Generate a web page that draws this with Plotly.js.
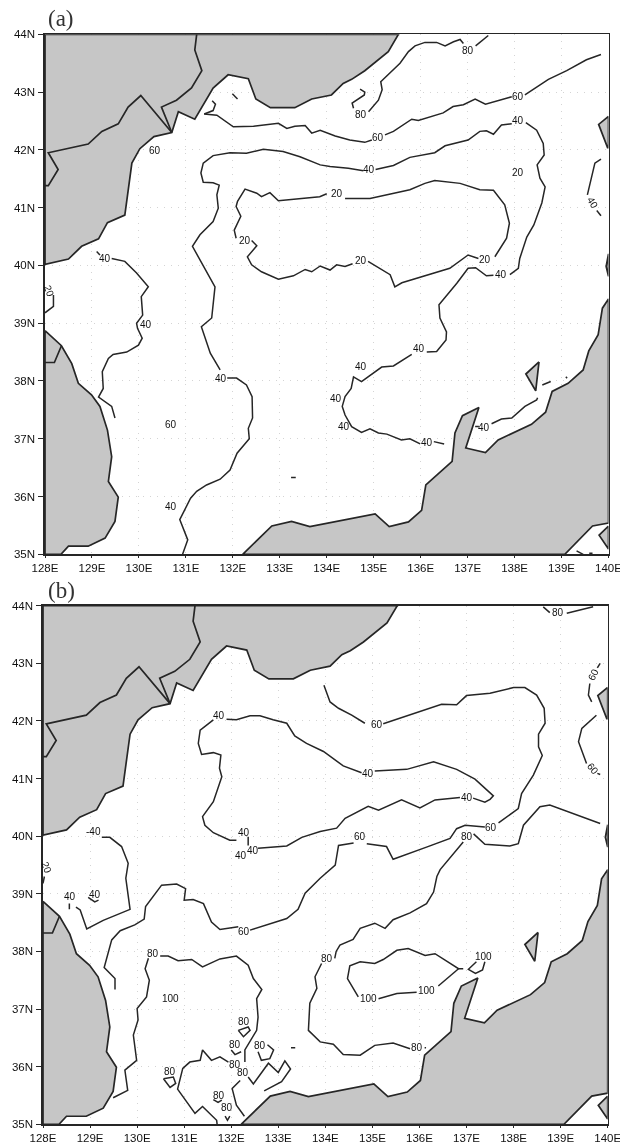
<!DOCTYPE html>
<html><head><meta charset="utf-8">
<script src="https://cdn.plot.ly/plotly-3.0.1.min.js"></script>
<style>html,body{margin:0;padding:0;background:#fff;overflow:hidden}#chart{filter:blur(0.35px)}</style>
</head><body><div id="chart" style="width:627px;height:1145px"></div>
<script>
// ---- land (lon, lat) ----
const landNorth=[[128,44],[135.54,44],[135.52,43.99],[135.31,43.70],[134.81,43.37],[134.53,43.22],[134.35,43.15],[134.10,42.95],[133.85,42.91],[133.68,42.88],[133.32,42.73],[132.80,42.73],[132.49,42.88],[132.33,43.23],[131.90,43.30],[131.58,43.07],[131.19,42.53],[130.84,42.66],[130.70,42.30],[130.32,42.23],[130.02,42.02],[129.85,41.77],[129.70,40.87],[129.33,40.74],[129.14,40.46],[128.78,40.33],[128.50,40.11],[128,40.02],[128,44]];
const borderA=[[128,41.38],[128.07,41.38],[128.28,41.66],[128.07,41.95],[128.92,42.10],[129.21,42.32],[129.56,42.45],[129.77,42.74],[130.04,42.94],[130.70,42.30]];
const borderB=[[130.70,42.30],[130.48,42.74],[130.80,42.86],[131.12,43.07],[131.34,43.37],[131.19,43.73],[131.23,44]];
const landKorea=[[128,38.87],[128.35,38.61],[128.57,38.30],[128.71,37.96],[128.99,37.76],[129.17,37.56],[129.33,37.15],[129.42,36.69],[129.35,36.26],[129.56,35.99],[129.49,35.57],[129.28,35.28],[128.92,35.14],[128.50,35.14],[128.34,35.0],[128,35],[128,38.87]];
const borderC=[[128,38.32],[128.20,38.32],[128.35,38.61]];
const landJapan=[[132.21,35.0],[132.83,35.49],[133.25,35.57],[133.64,35.48],[135.03,35.70],[135.33,35.48],[135.74,35.56],[136.02,35.76],[136.11,36.2],[136.67,36.61],[136.73,37.10],[136.89,37.40],[137.24,37.54],[136.96,36.84],[137.38,36.76],[137.65,36.98],[138.36,37.25],[138.66,37.46],[138.80,37.82],[139.14,37.96],[139.46,38.19],[139.58,38.52],[139.78,38.80],[139.87,39.26],[140,39.42],[140,35.54],[139.66,35.49],[139.07,35.0],[132.21,35.0]];
const islandSado=[[138.52,38.33],[138.24,38.12],[138.45,37.83],[138.52,38.33]];
const islandCorner=[[140,35.49],[139.80,35.33],[140,35.09],[140,35.49]];
const islandNE=[[140,42.58],[139.79,42.44],[139.98,42.04],[140,42.04],[140,42.58]];
const islandE=[[140,40.2],[139.95,39.98],[140,39.81],[140,40.2]];

// ---- panel (a) contours ----
const a60West=[[131.39,42.62],[131.66,42.60],[132.01,42.40],[132.44,42.41],[132.97,42.46],[133.15,42.37],[133.32,42.41],[133.54,42.42],[133.68,42.29],[133.86,42.34],[134.18,42.24],[134.49,42.17],[134.81,42.13],[134.96,42.17]];
const a60Mid=[[135.24,42.26],[135.42,42.32],[135.81,42.53],[135.95,42.51],[136.48,42.64],[136.69,42.75],[136.91,42.78],[137.16,42.88],[137.38,42.79],[137.94,42.92]];
const a60East=[[138.22,42.95],[138.72,43.22],[139.11,43.37],[139.53,43.56],[139.84,43.65]];
const a60Stub=[[131.56,42.85],[131.63,42.79],[131.58,42.68],[131.39,42.62]];
const a60Tick=[[131.99,42.97],[132.10,42.88]];
const a80Top=[[137.44,43.98],[137.17,43.80]];
const a80Arc=[[136.91,43.84],[136.84,43.91],[136.70,43.87],[136.52,43.80],[136.34,43.86],[136.09,43.86],[135.88,43.80],[135.74,43.70],[135.56,43.50],[135.15,43.18],[135.18,43.04],[135.10,42.86],[134.89,42.66]];
const a80Stub=[[134.57,42.72],[134.54,42.81],[134.80,42.95],[134.81,43.0],[134.71,43.05]];
const a40South=[[130.93,35.0],[131.04,35.25],[130.87,35.60],[131.10,35.97],[131.23,36.09],[131.44,36.20],[131.73,36.30],[131.94,36.46],[132.09,36.75],[132.35,37.0],[132.33,37.18],[132.42,37.36],[132.41,37.73],[132.29,37.93],[132.08,38.05],[131.88,38.05]];
const a40West=[[131.73,38.19],[131.52,38.48],[131.33,38.94],[131.55,39.09],[131.62,39.63],[131.14,40.33],[131.30,40.53],[131.58,40.76],[131.69,40.99],[131.66,41.22],[131.71,41.39],[131.58,41.43],[131.37,41.44],[131.32,41.60],[131.37,41.77],[131.58,41.90],[131.94,41.95],[132.29,41.94],[132.65,42.01],[133.07,41.97],[133.43,41.88],[133.64,41.81],[133.86,41.74],[134.07,41.71],[134.46,41.68],[134.78,41.64]];
const a40North=[[135.04,41.66],[135.42,41.73],[135.77,41.87],[136.30,41.95],[136.52,42.07],[137.01,42.17],[137.26,42.32],[137.40,42.33],[137.55,42.27],[137.72,42.43],[137.94,42.45]];
const a40East=[[138.24,42.47],[138.47,42.34],[138.61,42.11],[138.63,41.91],[138.48,41.74],[138.54,41.51],[138.65,41.36],[138.58,41.08],[138.41,40.70],[138.26,40.49],[138.11,40.12],[138.08,39.95],[137.90,39.84]];
const a40Bend=[[137.55,39.83],[137.40,39.82],[137.17,39.96],[137.01,39.95],[136.77,39.69],[136.50,39.42],[136.39,39.32],[136.41,39.09],[136.55,38.85],[136.54,38.71],[136.34,38.51],[136.13,38.50]];
const a40Loop=[[135.81,38.46],[135.42,38.26],[135.17,38.24],[134.74,37.99],[134.57,38.07],[134.52,37.87],[134.39,37.73],[134.33,37.56],[134.39,37.41],[134.53,37.21],[134.74,37.11],[134.92,37.17],[135.10,37.10],[135.28,37.08],[135.59,36.98],[135.77,37.0],[135.99,36.91]];
const a40End=[[136.28,36.95],[136.50,36.91]];
const a40Korea=[[129.42,40.12],[129.70,40.07],[129.95,39.87],[130.20,39.63],[130.05,39.46],[130.08,39.14],[129.95,39.0],[129.97,38.91],[130.07,38.74],[129.99,38.62],[129.74,38.50],[129.45,38.46],[129.35,38.39],[129.22,38.16],[129.24,37.87],[129.14,37.72],[129.42,37.56],[129.49,37.36]];
const a40KoreaTick=[[129.10,40.24],[129.17,40.18]];
const a20Edge=[[128.18,39.49],[128.18,39.29],[128,39.18]];
const a20Left=[[132.07,40.47],[132.03,40.61],[132.17,40.85],[132.07,41.02],[132.10,41.11],[132.26,41.32],[132.51,41.25],[132.61,41.19],[132.79,41.26],[132.97,41.12],[133.85,41.19],[134.0,41.24]];
const a20Top=[[134.39,41.16],[134.92,41.16],[135.77,41.31],[136.09,41.42],[136.30,41.47],[136.84,41.42],[137.26,41.31],[137.55,41.30],[137.79,41.05],[137.89,40.73],[137.83,40.47],[137.58,40.15]];
const a20Bottom=[[137.23,40.12],[137.01,40.18],[136.62,39.95],[135.60,39.70],[135.45,39.63],[135.35,39.84],[134.88,40.07]];
const a20Wave=[[134.55,40.03],[134.39,39.98],[134.21,40.01],[134.07,39.92],[133.86,39.99],[133.68,39.89],[133.54,39.93],[133.29,39.82],[132.97,39.76],[132.61,39.89],[132.40,40.01],[132.31,40.15],[132.51,40.34],[132.40,40.43]];
const a40Right=[[139.84,41.84],[139.71,41.77],[139.55,41.22]];
const a40RightEnd=[[139.75,40.95],[139.84,40.86]];
const a40Sado=[[137.51,37.26],[137.72,37.34],[137.94,37.36],[138.22,37.56],[138.47,37.67],[138.49,37.71]];
const a40SadoTick=[[137.16,37.21],[137.24,37.21]];
const aDashA=[[138.59,37.93],[138.77,37.99]];
const aDashB=[[139.09,38.07],[139.12,38.05]];
const aDashC=[[133.24,36.33],[133.34,36.33]];
const aDashD=[[139.32,35.06],[139.46,35.0]];
const aDashE=[[139.59,35.02],[139.66,35.02]];
const panelAlines=[a60West,a60Mid,a60East,a60Stub,a60Tick,a80Top,a80Arc,a80Stub,a40South,a40West,a40North,a40East,a40Bend,a40Loop,a40End,a40Korea,a40KoreaTick,a20Edge,a20Left,a20Top,a20Bottom,a20Wave,a40Right,a40RightEnd,a40Sado,a40SadoTick,aDashA,aDashB,aDashC,aDashD,aDashE];
const panelAlabels=[["60",130.34,41.99,0],["60",135.09,42.22,0],["60",138.08,42.93,0],["80",137.01,43.72,0],["80",134.72,42.62,0],["40",134.91,41.66,0],["40",138.08,42.51,0],["40",137.72,39.85,0],["40",135.96,38.56,0],["40",134.72,38.25,0],["40",134.20,37.69,0],["40",134.37,37.21,0],["40",136.13,36.94,0],["40",137.35,37.20,0],["40",131.74,38.05,0],["40",130.16,38.97,0],["60",130.68,37.24,0],["40",130.68,35.82,0],["40",129.28,40.12,0],["20",132.26,40.43,0],["20",134.21,41.24,0],["20",134.73,40.08,0],["20",137.37,40.11,0],["20",138.08,41.60,0],["40",139.66,41.09,60],["20",128.09,39.55,70]];

// ---- panel (b) contours ----
const b40Ring=[[131.90,42.03],[132.11,42.02],[132.40,42.09],[132.61,42.09],[132.89,42.02],[133.18,41.96],[133.35,41.74],[133.60,41.61],[133.96,41.47],[134.17,41.35],[134.38,41.22],[134.77,41.10]];
const b40Ring2=[[135.05,41.13],[135.73,41.16],[136.30,41.29],[136.79,41.16],[137.18,40.99],[137.57,40.70],[137.50,40.64],[137.39,40.59],[137.14,40.66]];
const b40Ring3=[[136.86,40.67],[136.33,40.63],[136.01,40.49],[135.62,40.63],[135.13,40.45],[134.91,40.52],[134.42,40.31],[134.24,40.14],[133.89,40.08],[133.50,39.98],[133.18,39.83],[132.57,39.79]];
const b40Left=[[132.11,39.93],[131.97,39.93],[131.62,40.06],[131.44,40.19],[131.39,40.34],[131.62,40.60],[131.80,41.03],[131.75,41.18],[131.78,41.41],[131.62,41.45],[131.37,41.42],[131.30,41.61],[131.34,41.84],[131.62,42.02]];
const b40Tick=[[132.36,39.99],[132.36,39.84]];
const b40Korea=[[129.25,39.98],[129.42,39.98],[129.67,39.82],[129.81,39.53],[129.76,39.27],[129.81,39.01],[129.85,38.73],[129.28,38.54],[128.93,38.39],[128.79,38.72],[128.70,38.77]];
const b40KTick=[[128.56,38.83],[128.56,38.73]];
const b40KArc=[[128.96,38.94],[129.10,38.86],[129.18,38.89]];
const b20Edge=[[128.03,39.30],[128,39.18]];
const b60North=[[133.97,42.62],[134.10,42.33],[134.28,42.22],[134.56,42.10],[134.84,41.96]];
const b60Loop=[[135.23,41.95],[135.80,42.10],[136.47,42.29],[136.79,42.28],[137.0,42.44],[137.50,42.48],[138.0,42.58],[138.24,42.58],[138.49,42.45],[138.65,42.22],[138.67,41.96],[138.53,41.77],[138.53,41.55],[138.61,41.40],[138.42,41.06],[138.17,40.74],[138.10,40.48],[137.68,40.23]];
const b60Mid=[[137.39,40.16],[136.97,40.19],[136.79,40.13],[136.65,39.96],[136.15,39.81],[135.44,39.60],[135.30,39.82],[134.88,39.87]];
const b60South=[[134.60,39.88],[134.28,39.84],[134.21,39.50],[134.03,39.38],[133.89,39.27],[133.57,39.01],[133.42,38.73],[133.18,38.57],[132.40,38.37]];
const b60Far=[[132.15,38.43],[131.76,38.38],[131.58,38.51],[131.41,38.83],[131.19,38.90],[131.0,38.89],[131.03,39.09],[130.84,39.17],[130.52,39.15],[130.18,38.78],[130.15,38.56],[129.95,38.46],[129.64,38.36],[129.46,38.20],[129.30,37.72],[129.53,37.53],[129.53,37.34]];
const b60RightA=[[139.84,43.0],[139.78,42.92]];
const b60RightB=[[139.62,42.65],[139.59,42.45],[139.66,42.33]];
const b60RightC=[[139.76,42.10],[139.45,41.87],[139.38,41.64],[139.55,41.26]];
const b60RightD=[[139.78,41.09],[139.84,41.07]];
const b80TopA=[[138.63,43.98],[138.77,43.88]];
const b80TopB=[[139.13,43.87],[139.69,43.98]];
const b80East=[[139.84,40.22],[139.27,40.39],[138.77,40.54],[138.56,40.51],[138.21,40.19],[138.10,39.87],[137.92,39.83],[137.39,39.86],[137.15,40.04]];
const b80Down=[[136.93,39.90],[136.44,39.42],[136.37,39.30],[136.30,39.03],[136.15,38.83],[135.80,38.67],[135.44,38.55],[135.27,38.40],[135.05,38.49],[134.74,38.40],[134.59,38.21],[134.31,38.11],[134.23,38.0],[134.20,37.88]];
const b80Turn=[[133.92,37.79],[133.78,37.56],[133.82,37.36],[133.67,37.10],[133.64,36.63],[133.89,36.43],[134.17,36.39],[134.38,36.21],[134.74,36.20],[135.05,36.37],[135.44,36.41],[135.80,36.31]];
const b80TurnEnd=[[136.11,36.33],[136.14,36.33]];
const b100Main=[[136.93,37.70],[136.83,37.70],[136.33,37.96],[136.12,37.93],[135.76,38.05],[135.52,38.02],[135.23,37.86],[135.05,37.79],[134.74,37.82],[134.52,37.75],[134.47,37.53],[134.70,37.21]];
const b100Low=[[135.13,37.18],[135.52,37.27],[135.94,37.29]];
const b100Rise=[[136.40,37.40],[136.83,37.70]];
const b100Small=[[137.21,37.82],[137.04,37.69],[137.19,37.62],[137.34,37.68],[137.39,37.82]];
const b80North=[[130.49,37.92],[130.66,37.92],[130.87,37.84],[131.16,37.86],[131.39,37.73],[131.76,37.87],[132.11,37.92],[132.36,37.76],[132.47,37.53],[132.65,37.34],[132.54,37.18],[132.57,36.86],[132.54,36.63],[132.29,36.29],[132.29,36.08]];
const b80Sweep=[[131.94,36.08],[131.76,36.17],[131.58,36.11],[131.39,36.29],[131.34,36.11],[131.12,36.08],[130.97,35.97],[130.86,35.61],[131.23,35.19],[131.39,35.31],[131.69,35.07],[131.70,35.0]];
const b80Coast=[[130.24,37.88],[130.17,37.70],[130.26,37.5],[130.20,37.21],[130.0,37.01],[130.02,36.81],[129.92,36.55],[129.99,36.11],[129.74,35.94],[129.80,35.59],[129.49,35.46]];
const b80Zig=[[132.36,35.82],[132.47,35.70],[132.79,36.06],[133.0,35.90],[133.14,36.10],[133.26,35.96],[133.07,35.74],[132.70,35.58]];
const b80Hook=[[132.19,35.76],[132.02,35.62],[132.11,35.33],[132.28,35.14]];
const b80RingA=[[132.15,36.63],[132.26,36.52],[132.40,36.63],[132.36,36.69],[132.15,36.63]];
const b80RingB=[[132.0,36.29],[132.08,36.21],[132.21,36.26]];
const b80RingC=[[132.57,36.26],[132.64,36.11],[132.82,36.14],[132.90,36.29],[132.77,36.38]];
const b80RingD=[[130.56,35.79],[130.70,35.64],[130.82,35.71],[130.77,35.82],[130.56,35.79]];
const b80ArcA=[[131.62,35.43],[131.72,35.38],[131.80,35.42]];
const b80ArcB=[[131.87,35.14],[131.92,35.07],[131.97,35.14]];
const bDash=[[133.27,36.33],[133.36,36.33]];
const panelBlines=[b40Ring,b40Ring2,b40Ring3,b40Left,b40Tick,b40Korea,b40KTick,b40KArc,b20Edge,b60North,b60Loop,b60Mid,b60South,b60Far,b60RightA,b60RightB,b60RightC,b60RightD,b80TopA,b80TopB,b80East,b80Down,b80Turn,b80TurnEnd,b100Main,b100Low,b100Rise,b100Small,b80North,b80Sweep,b80Coast,b80Zig,b80Hook,b80RingA,b80RingB,b80RingC,b80RingD,b80ArcA,b80ArcB,bDash];
const panelBlabels=[["40",131.75,42.10,0],["40",134.91,41.09,0],["40",137.02,40.67,0],["40",132.47,39.76,0],["40",132.21,39.66,0],["40",132.28,40.06,0],["-40",129.07,40.08,0],["40",128.57,38.95,0],["40",129.10,38.99,0],["20",128.08,39.46,70],["60",135.09,41.93,0],["60",137.53,40.15,0],["60",134.74,40.0,0],["60",132.27,38.35,0],["60",139.70,42.80,-65],["60",139.68,41.17,50],["80",138.95,43.88,0],["80",137.02,40.0,0],["80",134.03,37.87,0],["80",135.95,36.34,0],["100",134.91,37.18,0],["100",136.15,37.32,0],["100",137.37,37.92,0],["80",130.33,37.96,0],["100",130.70,37.18,0],["80",132.08,36.03,0],["80",132.26,35.90,0],["80",132.27,36.78,0],["80",132.09,36.39,0],["80",132.62,36.36,0],["80",130.69,35.92,0],["80",131.74,35.50,0],["80",131.92,35.29,0]];

// ---- axes ticks ----
const lonTicks=[128,129,130,131,132,133,134,135,136,137,138,139,140];
const lonText=["128E","129E","130E","131E","132E","133E","134E","135E","136E","137E","138E","139E","140E"];
const latTicks=[35,36,37,38,39,40,41,42,43,44];
const latText=["35N","36N","37N","38N","39N","40N","41N","42N","43N","44N"];
const panelTags=["(a)","(b)"];

const W=627,H=1145;
const boxA={l:45,r:608.5,t:34.3,b:554.3};
const boxB={l:43,r:607.7,t:605.7,b:1124.3};
const GREY="#c6c6c6",INK="#262626";
const lons=a=>a.map(p=>p[0]), lats=a=>a.map(p=>p[1]);

function landTraces(xa,ya){
  const t=[];
  [landNorth,landKorea,landJapan,islandSado,islandCorner,islandNE,islandE].forEach(p=>t.push({
    type:"scatter",mode:"lines",x:lons(p),y:lats(p),xaxis:xa,yaxis:ya,fill:"toself",fillcolor:GREY,
    line:{color:INK,width:1.7},hoverinfo:"skip",showlegend:false}));
  [borderA,borderB,borderC].forEach(p=>t.push({
    type:"scatter",mode:"lines",x:lons(p),y:lats(p),xaxis:xa,yaxis:ya,
    line:{color:INK,width:1.7},hoverinfo:"skip",showlegend:false}));
  return t;
}
function lineTraces(list,xa,ya){
  return list.map(p=>({type:"scatter",mode:"lines",x:lons(p),y:lats(p),xaxis:xa,yaxis:ya,
    line:{color:INK,width:1.5},hoverinfo:"skip",showlegend:false}));
}
function labelAnn(list,xr,yr){
  return list.map(l=>({text:l[0],x:l[1],y:l[2],xref:xr,yref:yr,showarrow:false,textangle:l[3],
    font:{family:"Liberation Sans",size:10,color:"#111"},xanchor:"center",yanchor:"middle",borderpad:0}));
}
function xAxis(box,anchor){return {domain:[box.l/W,box.r/W],range:[128,140],anchor:anchor,tickmode:"array",tickvals:lonTicks,ticktext:lonText,
  ticks:"outside",ticklen:2,tickcolor:INK,tickfont:{family:"Liberation Sans",size:11.5,color:"#111"},tickangle:0,
  showline:true,linecolor:INK,linewidth:1.7,mirror:true,showgrid:true,gridcolor:"#d4d4d4",griddash:"1px,6px",gridwidth:1,zeroline:false,layer:"above traces"};}
function yAxis(box,anchor){return {domain:[(H-box.b)/H,(H-box.t)/H],range:[35,44],anchor:anchor,tickmode:"array",tickvals:latTicks,ticktext:latText,
  ticks:"outside",ticklen:5,tickcolor:INK,tickfont:{family:"Liberation Sans",size:11.5,color:"#111"},ticklabelstandoff:1,
  showline:true,linecolor:INK,linewidth:1.7,mirror:true,showgrid:true,gridcolor:"#d4d4d4",griddash:"1px,6px",gridwidth:1,zeroline:false,layer:"above traces"};}

const data=[].concat(landTraces("x","y"),lineTraces(panelAlines,"x","y"),landTraces("x2","y2"),lineTraces(panelBlines,"x2","y2"));
const tag=(t,xpx,ypx)=>({text:t,xref:"paper",yref:"paper",x:xpx/W,y:(H-ypx)/H,showarrow:false,xanchor:"left",yanchor:"middle",
  font:{family:"Liberation Serif",size:23,color:"#333"}});
const layout={width:W,height:H,margin:{l:0,r:0,t:0,b:0},paper_bgcolor:"#fff",plot_bgcolor:"#fff",showlegend:false,
  xaxis:xAxis(boxA,"y"),yaxis:yAxis(boxA,"x"),xaxis2:xAxis(boxB,"y2"),yaxis2:yAxis(boxB,"x2"),
  shapes:[{type:"rect",xref:"paper",yref:"paper",x0:620/W,x1:1,y0:0,y1:1,fillcolor:"#fff",line:{width:0},layer:"above"}],
  annotations:[].concat(labelAnn(panelAlabels,"x","y"),labelAnn(panelBlabels,"x2","y2"),[tag(panelTags[0],46,19),tag(panelTags[1],46,590)])};
Plotly.newPlot("chart",data,layout,{displayModeBar:false,staticPlot:true});
</script></body></html>
